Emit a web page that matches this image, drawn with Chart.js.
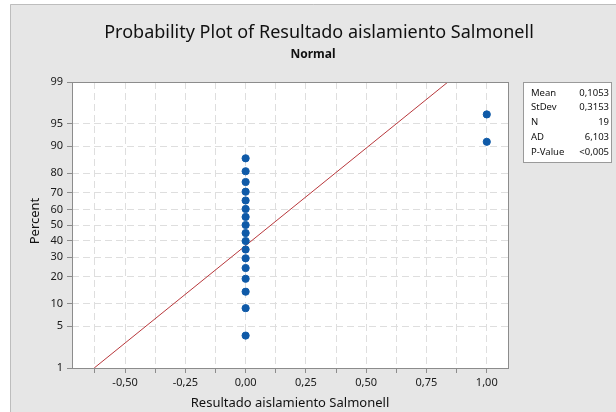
<!DOCTYPE html>
<html>
<head>
<meta charset="utf-8">
<script src="https://cdn.jsdelivr.net/npm/chart.js@4/dist/chart.umd.min.js"></script>
<style>
  html, body { margin: 0; padding: 0; background: #fff; }
  #wrap { width: 616px; height: 412px; position: relative; }
</style>
</head>
<body>
<div id="wrap"><canvas id="c" width="616" height="412"></canvas></div>
<script>
'use strict'

// data
const pointX = [0, 0, 0, 0, 0, 0, 0, 0, 0, 0, 0, 0, 0, 0, 0, 0, 0, 1, 1];
const pointPct = [3.6, 8.8, 13.9, 19.1, 24.2, 29.4, 34.5, 39.7, 44.8, 50.0, 55.2, 60.3, 65.5, 70.6, 75.8, 80.9, 86.1, 91.2, 96.4];
const fitX = [-0.628, 0.839];
const fitPct = [1, 99];

const yTickPct = [1, 5, 10, 20, 30, 40, 50, 60, 70, 80, 90, 95, 99];
const xTicks = [-0.625, -0.5, -0.375, -0.25, -0.125, 0, 0.125, 0.25, 0.375, 0.5, 0.625, 0.75, 0.875, 1.0];
const xLabelTicks = [-0.5, -0.25, 0, 0.25, 0.5, 0.75, 1.0];

const statLabels = ['Mean', 'StDev', 'N', 'AD', 'P-Value'];
const statValues = ['0,1053', '0,3153', '19', '6,103', '<0,005'];

const FONT = '"Noto Sans", "Open Sans", sans-serif';

// inverse normal cdf, used for the probability (probit) axis
function probit(p) {
  const a = [-39.69683028665376, 220.9460984245205, -275.9285104469687, 138.3577518672690, -30.66479806614716, 2.506628277459239];
  const b = [-54.47609879822406, 161.5858368580409, -155.6989798598866, 66.80131188771972, -13.28068155288572];
  const c = [-0.007784894002430293, -0.3223964580411365, -2.400758277161838, -2.549732539343734, 4.374664141464968, 2.938163982698783];
  const d = [0.007784695709041462, 0.3224671290700398, 2.445134137142996, 3.754408661907416];
  const pl = 0.02425;
  let q, r;
  if (p < pl) {
    q = Math.sqrt(-2 * Math.log(p));
    return (((((c[0]*q+c[1])*q+c[2])*q+c[3])*q+c[4])*q+c[5]) / ((((d[0]*q+d[1])*q+d[2])*q+d[3])*q+1);
  }
  if (p > 1 - pl) {
    q = Math.sqrt(-2 * Math.log(1 - p));
    return -(((((c[0]*q+c[1])*q+c[2])*q+c[3])*q+c[4])*q+c[5]) / ((((d[0]*q+d[1])*q+d[2])*q+d[3])*q+1);
  }
  q = p - 0.5;
  r = q * q;
  return (((((a[0]*r+a[1])*r+a[2])*r+a[3])*r+a[4])*r+a[5])*q / (((((b[0]*r+b[1])*r+b[2])*r+b[3])*r+b[4])*r+1);
}

const points = pointX.map((x, i) => ({ x: x, y: probit(pointPct[i] / 100) }));
const fitLine = fitX.map((x, i) => ({ x: x, y: probit(fitPct[i] / 100) }));

// panel, frame, titles and the stats box
const decor = {
  id: 'decor',
  beforeDraw(chart) {
    const ctx = chart.ctx;
    ctx.save();
    ctx.fillStyle = '#ffffff';
    ctx.fillRect(0, 0, 616, 412);
    ctx.fillStyle = '#e6e6e6';
    ctx.fillRect(10, 4, 606, 408);
    ctx.strokeStyle = '#bdbdbd';
    ctx.lineWidth = 1;
    ctx.beginPath();
    ctx.moveTo(10.5, 412); ctx.lineTo(10.5, 4.5); ctx.lineTo(616, 4.5);
    ctx.stroke();
    const a = chart.chartArea;
    ctx.fillStyle = '#ffffff';
    ctx.fillRect(a.left, a.top, a.right - a.left, a.bottom - a.top);
    ctx.restore();
  },
  afterDraw(chart) {
    const ctx = chart.ctx;
    const a = chart.chartArea;
    ctx.save();
    ctx.strokeStyle = '#8c8c8c';
    ctx.lineWidth = 1;
    ctx.strokeRect(Math.round(a.left) + 0.5, Math.round(a.top) + 0.5, Math.round(a.right - a.left), Math.round(a.bottom - a.top));

    ctx.fillStyle = '#111';
    ctx.textAlign = 'center';
    ctx.textBaseline = 'middle';
    ctx.font = '18px ' + FONT;
    ctx.fillText('Probability Plot of Resultado aislamiento Salmonell', 319, 33);
    ctx.font = 'bold 12px ' + FONT;
    ctx.fillText('Normal', 313, 55);

    ctx.font = '13px ' + FONT;
    ctx.fillText('Resultado aislamiento Salmonell', (a.left + a.right) / 2, 403);
    ctx.save();
    ctx.translate(35, 221);
    ctx.rotate(-Math.PI / 2);
    ctx.fillText('Percent', 0, 0);
    ctx.restore();

    // stats box
    ctx.fillStyle = '#ffffff';
    ctx.fillRect(523, 82, 88, 80);
    ctx.strokeStyle = '#9a9a9a';
    ctx.strokeRect(523.5, 82.5, 88, 80);
    ctx.font = '9.5px ' + FONT;
    ctx.fillStyle = '#111';
    statLabels.forEach((s, i) => {
      const y = 93 + i * 14.7;
      ctx.textAlign = 'left';
      ctx.fillText(s, 531, y);
      ctx.textAlign = 'right';
      ctx.fillText(statValues[i], 609, y);
    });
    ctx.restore();
  }
};

const gridDash = { color: '#dedede', lineWidth: 1, tickLength: 5, tickColor: '#8c8c8c', drawTicks: true };

new Chart(document.getElementById('c'), {
  type: 'scatter',
  data: {
    datasets: [
      {
        label: 'fit',
        type: 'line',
        data: fitLine,
        borderColor: '#b8383c',
        borderWidth: 1,
        pointRadius: 0,
        fill: false,
        order: 2
      },
      {
        label: 'data',
        data: points,
        backgroundColor: '#0f5aa8',
        borderColor: '#0f5aa8',
        pointRadius: 3.6,
        order: 1
      }
    ]
  },
  options: {
    responsive: false,
    animation: false,
    layout: { padding: { left: 0, top: 82, right: 108, bottom: 0 } },
    plugins: { legend: { display: false }, tooltip: { enabled: false } },
    scales: {
      x: {
        type: 'linear',
        min: -0.72,
        max: 1.088,
        afterFit: s => { s.height = 44; },
        afterBuildTicks: s => { s.ticks = xTicks.map(v => ({ value: v })); },
        grid: gridDash,
        border: { display: false, dash: [7, 4] },
        ticks: {
          autoSkip: false,
          maxRotation: 0,
          padding: 3,
          color: '#1a1a1a',
          font: { family: FONT, size: 11 },
          callback: v => xLabelTicks.includes(v) ? v.toFixed(2).replace('.', ',') : ''
        }
      },
      y: {
        type: 'linear',
        min: probit(0.01),
        max: probit(0.99),
        afterFit: s => { s.width = 72; },
        afterBuildTicks: s => { s.ticks = yTickPct.map(p => ({ value: probit(p / 100) })); },
        grid: gridDash,
        border: { display: false, dash: [7, 4] },
        ticks: {
          autoSkip: false,
          padding: 4,
          color: '#1a1a1a',
          font: { family: FONT, size: 11 },
          callback: (v, i) => String(yTickPct[i])
        }
      }
    }
  },
  plugins: [decor]
});
</script>
</body>
</html>
